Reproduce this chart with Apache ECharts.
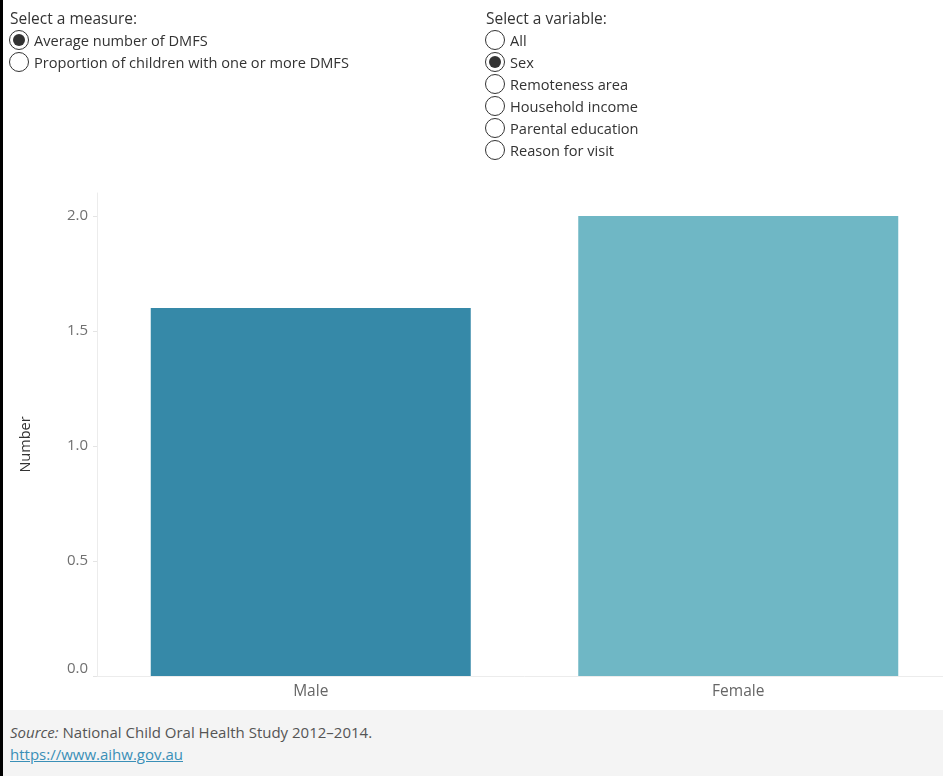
<!DOCTYPE html>
<html>
<head>
<meta charset="utf-8">
<script src="https://cdn.jsdelivr.net/npm/echarts@6/dist/echarts.min.js"></script>
<style>
  html, body { margin: 0; padding: 0; background: #fff; }
  body { width: 943px; height: 776px; position: relative; overflow: hidden; font-family: 'Open Sans', sans-serif; }
  #border { position: absolute; left: 0; top: 0; width: 3px; height: 776px; background: #000; z-index: 5; }
  #chart { position: absolute; left: 0; top: 0; width: 970px; height: 776px; }
  .panel { position: absolute; top: 7px; font-size: 14.6px; color: #333; z-index: 3; }
  .panel .title { height: 22px; line-height: 22px; font-size: 15.5px; }
  .opt { height: 22px; line-height: 22px; position: relative; padding-left: 24px; color: #333; }
  .opt .dot { position: absolute; left: -1px; top: 1px; width: 20px; height: 20px; border: 1px solid #333; border-radius: 50%; box-sizing: border-box; background: #fff; }
  .opt.on .dot::after { content: ''; position: absolute; left: 3px; top: 3px; width: 12px; height: 12px; border-radius: 50%; background: #333; }
  #footer { position: absolute; left: 3px; top: 710px; width: 940px; height: 66px; background: #f4f4f4; font-size: 15px; color: #555; z-index: 3; }
  #footer .src { position: absolute; left: 7px; top: 12px; }
  #footer a { position: absolute; left: 7px; top: 34px; color: #3a8fb7; text-decoration: underline; }
</style>
</head>
<body>
<div id="border"></div>
<div id="chart"></div>
<div class="panel" id="measure" style="left:10px"></div>
<div class="panel" id="variable" style="left:486px"></div>
<div id="footer">
  <div class="src"><i>Source:</i> National Child Oral Health Study 2012–2014.</div>
  <a>https://www.aihw.gov.au</a>
</div>
<script>
const categories = ['Male', 'Female']
const values = [1.6, 2.0]
const barColors = ['#3689a8', '#6fb7c5']
const yTicks = [0, 0.5, 1.0, 1.5, 2.0]
const measureOptions = ['Average number of DMFS', 'Proportion of children with one or more DMFS']
const variableOptions = ['All', 'Sex', 'Remoteness area', 'Household income', 'Parental education', 'Reason for visit']

const buildPanel = (el, title, options, selected) => {
  let html = `<div class="title">${title}</div>`
  options.forEach((o, i) => {
    html += `<div class="opt${i === selected ? ' on' : ''}"><span class="dot"></span>${o}</div>`
  })
  el.innerHTML = html
}
buildPanel(document.getElementById('measure'), 'Select a measure:', measureOptions, 0)
buildPanel(document.getElementById('variable'), 'Select a variable:', variableOptions, 1)

const chart = echarts.init(document.getElementById('chart'))

chart.setOption({
  animation: false,
  backgroundColor: 'transparent',
  grid: { left: 97, top: 193, width: 855, height: 483, containLabel: false },
  xAxis: {
    type: 'category',
    data: categories,
    axisLine: { lineStyle: { color: '#ececec' } },
    axisTick: { show: false },
    axisLabel: { color: '#666', fontSize: 15.5, margin: 8, fontFamily: 'Open Sans' }
  },
  yAxis: {
    type: 'value',
    min: 0,
    max: 2.1,
    interval: 0.5,
    name: 'Number',
    nameLocation: 'middle',
    nameGap: 64,
    nameTextStyle: { color: '#333', fontSize: 14.5, fontFamily: 'Open Sans', padding: [0, 20, 0, 0] },
    axisLine: { show: true, lineStyle: { color: '#ececec' } },
    axisTick: { show: true, length: 4, lineStyle: { color: '#e4e4e4' } },
    splitLine: { show: false },
    axisLabel: {
      color: '#707070',
      fontSize: 15,
      margin: 9,
      fontFamily: 'Open Sans',
      showMaxLabel: false,
      verticalAlignMinLabel: 'bottom',
      formatter: v => yTicks.includes(v) ? v.toFixed(1) : ''
    }
  },
  series: [{
    type: 'bar',
    barWidth: 320,
    data: values.map((v, i) => ({ value: v, itemStyle: { color: barColors[i] } }))
  }]
})
</script>
</body>
</html>
